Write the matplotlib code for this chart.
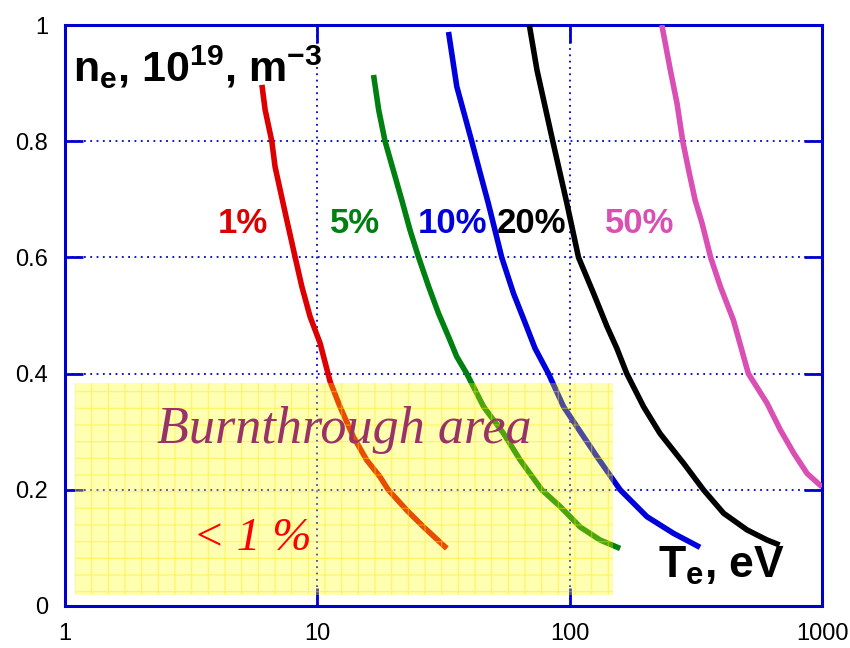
import matplotlib
matplotlib.use("Agg")
import matplotlib.pyplot as plt
from matplotlib.patches import Rectangle
from matplotlib.ticker import FixedLocator, NullLocator, FixedFormatter

plt.rcParams['font.family'] = ['Liberation Sans', 'DejaVu Sans']
plt.rcParams['mathtext.fontset'] = 'custom'
plt.rcParams['mathtext.rm'] = 'Liberation Sans'
plt.rcParams['mathtext.bf'] = 'Liberation Sans:bold'
plt.rcParams['hatch.linewidth'] = 0.8

# curves: T_e (eV) vs n_e (1e19 m^-3)
T_1 = [6.03, 6.21, 6.60, 6.80, 7.57, 8.17, 8.68, 9.36, 10.26, 11.24, 12.3, 13.9,
       15.7, 17.7, 19.1, 22.6, 26.3, 32.6]
n_1 = [0.897, 0.854, 0.80, 0.756, 0.664, 0.60, 0.550, 0.498, 0.452, 0.386, 0.343, 0.291,
       0.251, 0.2226, 0.20, 0.165, 0.1365, 0.099]

T_5 = [16.7, 17.5, 18.55, 20.0, 21.6, 23.3, 25.2, 27.6, 30.2, 33.1, 35.7, 39.1,
       45.6, 54.7, 63.7, 77.5, 91.8, 110, 132, 158.5]
n_5 = [0.914, 0.854, 0.80, 0.750, 0.699, 0.647, 0.60, 0.550, 0.504, 0.4635, 0.429, 0.40,
       0.343, 0.297, 0.251, 0.20, 0.171, 0.136, 0.1136, 0.099]

T_10 = [33.1, 35.7, 40.9, 44.2, 47.6, 53.8, 59.9, 66.7, 72.9, 82.4, 94.6, 106.7,
        128.3, 158.5, 202.5, 258, 328.6]
n_10 = [0.988, 0.894, 0.80, 0.745, 0.693, 0.60, 0.538, 0.4866, 0.4435, 0.40, 0.343, 0.309,
        0.257, 0.20, 0.1537, 0.125, 0.101]

T_20 = [69.2, 74.2, 85.7, 97.5, 108.4, 124.4, 140.6, 153.8, 168.4, 196.3, 228, 282.9,
        339, 407.5, 504.5, 605.6, 679]
n_20 = [1.0, 0.9226, 0.80, 0.693, 0.60, 0.538, 0.481, 0.4435, 0.40, 0.343, 0.297, 0.2456,
        0.20, 0.1596, 0.131, 0.1136, 0.105]

T_50 = [231.9, 250.5, 266.4, 280.6, 296.2, 314, 334.6, 362, 395.5, 445.6, 510.6, 605.6,
        684, 773, 873, 1000]
n_50 = [1.0, 0.9226, 0.865, 0.80, 0.750, 0.699, 0.659, 0.60, 0.550, 0.492, 0.40, 0.349,
        0.303, 0.263, 0.228, 0.205]

curve_labels = ["1%", "5%", "10%", "20%", "50%"]
label_T = [4.04, 11.24, 25.0, 51.5, 138.4]
label_n = 0.642

burn_T = [1.096, 148.5]
burn_n = [0.019, 0.384]

x_ticks = [1, 10, 100, 1000]
x_tick_labels = ["1", "10", "100", "1000"]
y_ticks = [0, 0.2, 0.4, 0.6, 0.8, 1.0]
y_tick_labels = ["0", "0.2", "0.4", "0.6", "0.8", "1"]

colors = ['#dd0000', '#008010', '#0000dd', '#000000', '#d94fb4']
axis_blue = '#0000cc'

fig = plt.figure(figsize=(8.5, 6.48), dpi=100)
ax = fig.add_axes([65/850, 1-606/648, 757/850, 581/648])

curves = [(T_1, n_1), (T_5, n_5), (T_10, n_10), (T_20, n_20), (T_50, n_50)]
for (T, n), c in zip(curves, colors):
    ax.plot(T, n, color=c, lw=4, solid_capstyle='butt', solid_joinstyle='round', zorder=3)

for lab, t, c in zip(curve_labels, label_T, colors):
    ax.text(t, label_n, lab, color=c, fontsize=25, fontweight='bold',
            ha='left', va='baseline', zorder=5)

# burnthrough area on top of the curves, semi transparent
rect = Rectangle((burn_T[0], burn_n[0]), burn_T[1]-burn_T[0], burn_n[1]-burn_n[0],
                 facecolor=(1, 1, 0, 0.3), edgecolor=(1, 0.9, 0, 0.45),
                 hatch='+', linewidth=0, zorder=4)
ax.add_patch(rect)

ax.text(2.31, 0.280, "Burnthrough area", color='#993366', fontsize=37.5,
        family='Liberation Serif', style='italic', ha='left', va='baseline', zorder=6)
ax.text(3.22, 0.0964, "< 1 %", color='#ff0000', fontsize=34,
        family='Liberation Serif', style='italic', ha='left', va='baseline', zorder=6)

ax.text(0.0106, 0.9024, r'n$_\mathbf{e}$, 10$^\mathbf{19}$, m$^\mathbf{-3}$',
        transform=ax.transAxes, fontsize=31, fontweight='bold',
        ha='left', va='baseline', zorder=6)
ax.text(0.783, 0.0477, r'T$_\mathbf{e}$, eV', transform=ax.transAxes,
        fontsize=32, fontweight='bold', ha='left', va='baseline', zorder=6)

ax.set_xscale('log')
ax.set_xlim(1, 1000)
ax.set_ylim(0, 1)
ax.xaxis.set_major_locator(FixedLocator(x_ticks))
ax.xaxis.set_major_formatter(FixedFormatter(x_tick_labels))
ax.xaxis.set_minor_locator(NullLocator())
ax.yaxis.set_major_locator(FixedLocator(y_ticks))
ax.yaxis.set_major_formatter(FixedFormatter(y_tick_labels))

ax.grid(True, color=axis_blue, linestyle=(0, (1, 2.5)), linewidth=1.3, zorder=1)
ax.set_axisbelow(True)
for s in ax.spines.values():
    s.set_color(axis_blue)
    s.set_linewidth(2.2)
ax.tick_params(which='major', direction='in', length=13, width=2, color=axis_blue,
               top=True, right=True, labelsize=17, labelcolor='black')
ax.tick_params(axis='x', pad=12)
ax.tick_params(axis='y', pad=12)

fig.savefig("out.png", dpi=100)
